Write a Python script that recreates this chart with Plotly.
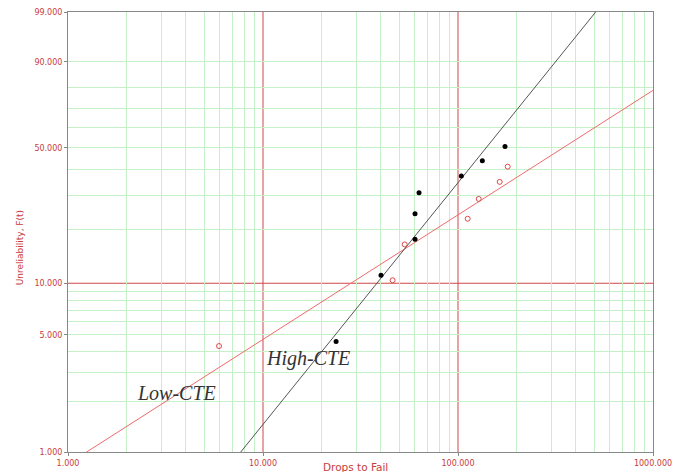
import numpy as np
import plotly.graph_objects as go

# ---- data ----
high_x = [23.7, 40.3, 60.2, 60.2, 63.1, 104.0, 133.3, 174.2]
high_F = [4.58, 11.1, 17.7, 24.2, 31.0, 37.5, 44.0, 50.7]
low_x = [5.95, 46.2, 53.3, 112.1, 127.7, 163.6, 179.8]
low_F = [4.30, 10.4, 16.55, 22.8, 28.9, 35.1, 41.4]

# Weibull fit parameters (beta, eta)
high_beta, high_eta = 1.462, 178.8
low_beta, low_eta = 0.753, 560.6

x_tick_vals = [1, 10, 100, 1000]
x_tick_text = ["1.000", "10.000", "100.000", "1000.000"]
x_minor_grid = [m * 10 ** d for d in range(0, 3) for m in range(2, 10)]
x_red_grid = [10, 100]

y_tick_vals = [1, 5, 10, 50, 90, 99]
y_tick_text = ["1.000", "5.000", "10.000", "50.000", "90.000", "99.000"]
y_minor_grid = [2, 3, 4, 5, 6, 7, 8, 9, 20, 30, 40, 50, 60, 70, 80, 90]
y_red_grid = [10]


def wb(F_pct):
    F = np.asarray(F_pct, dtype=float) / 100.0
    return np.log(-np.log(1.0 - F))


def fit_line(beta, eta):
    xs = np.array([1.0, 1000.0])
    return xs, beta * (np.log(xs) - np.log(eta))


red_txt = "#c83c3c"
red_grid = "#d04848"
green_grid = "#c6f0c6"
fig = go.Figure()

hx, hy = fit_line(high_beta, high_eta)
lx, ly = fit_line(low_beta, low_eta)
fig.add_trace(go.Scatter(x=lx, y=ly, mode="lines", line=dict(color="#f06a6a", width=1), showlegend=False))
fig.add_trace(go.Scatter(x=hx, y=hy, mode="lines", line=dict(color="#555555", width=1), showlegend=False))
fig.add_trace(go.Scatter(x=low_x, y=wb(low_F), mode="markers",
                         marker=dict(symbol="circle-open", size=5, color="#e04848", line=dict(width=1)),
                         showlegend=False))
fig.add_trace(go.Scatter(x=high_x, y=wb(high_F), mode="markers",
                         marker=dict(symbol="circle", size=5, color="#000000"),
                         showlegend=False))

# red major grid lines
for v in x_red_grid:
    fig.add_shape(type="line", yref="paper", y0=0, y1=1, xref="x", x0=v, x1=v,
                  line=dict(color=red_grid, width=1), layer="between")
for v in y_red_grid:
    fig.add_shape(type="rect", xref="paper", x0=0, x1=1,
                  yref="y", ysizemode="pixel", yanchor=float(wb(v)), y0=-0.5, y1=0.5,
                  fillcolor=red_grid, line=dict(width=0), layer="between")

fig.update_xaxes(
    type="log", range=[0, 3], automargin=False,
    tickmode="array", tickvals=x_tick_vals, ticktext=x_tick_text,
    showgrid=False,
    minor=dict(tickmode="array", tickvals=x_minor_grid, showgrid=True, gridcolor=green_grid, gridwidth=1, ticks=""),
    ticks="outside", ticklen=3, tickcolor="#888888",
    tickfont=dict(family="DejaVu Sans", size=8, color=red_txt),
    showline=True, linecolor="#888888", linewidth=1, mirror=True, zeroline=False,
)
fig.update_yaxes(
    range=[float(wb(1)), float(wb(99))], automargin=False,
    tickmode="array", tickvals=list(wb(y_tick_vals)), ticktext=y_tick_text,
    showgrid=False,
    minor=dict(tickmode="array", tickvals=list(wb(y_minor_grid)), showgrid=True, gridcolor=green_grid, gridwidth=1, ticks=""),
    ticks="outside", ticklen=3, tickcolor="#888888",
    tickfont=dict(family="DejaVu Sans", size=8, color=red_txt),
    showline=True, linecolor="#888888", linewidth=1, mirror=True, zeroline=False,
)

fig.add_annotation(text="Drops to Fail", xref="paper", yref="paper", x=0.4906, y=0,
                   xanchor="center", yanchor="middle", yshift=-15, showarrow=False,
                   font=dict(family="DejaVu Sans", size=10.5, color=red_txt))
fig.add_annotation(text="Unreliability, F(t)", xref="paper", yref="paper", x=0, y=0.463,
                   xanchor="center", yanchor="middle", xshift=-48, textangle=-90, showarrow=False,
                   font=dict(family="DejaVu Sans", size=9, color=red_txt))
fig.add_annotation(text="Low-CTE", xref="paper", yref="paper", x=0.1863, y=0.134,
                   xanchor="center", yanchor="middle", showarrow=False,
                   font=dict(family="Liberation Serif", size=20, color="#333333", style="italic"))
fig.add_annotation(text="High-CTE", xref="paper", yref="paper", x=0.411, y=0.2136,
                   xanchor="center", yanchor="middle", showarrow=False,
                   font=dict(family="Liberation Serif", size=20, color="#333333", style="italic"))

fig.update_layout(
    width=681, height=472,
    margin=dict(l=68, r=28, t=12, b=20, autoexpand=False),
    paper_bgcolor="white", plot_bgcolor="white",
    showlegend=False,
)

fig.write_html(
    "out.html",
    config={"displayModeBar": False},
    post_script="document.body.style.margin='0';document.body.style.overflow='hidden';",
)
